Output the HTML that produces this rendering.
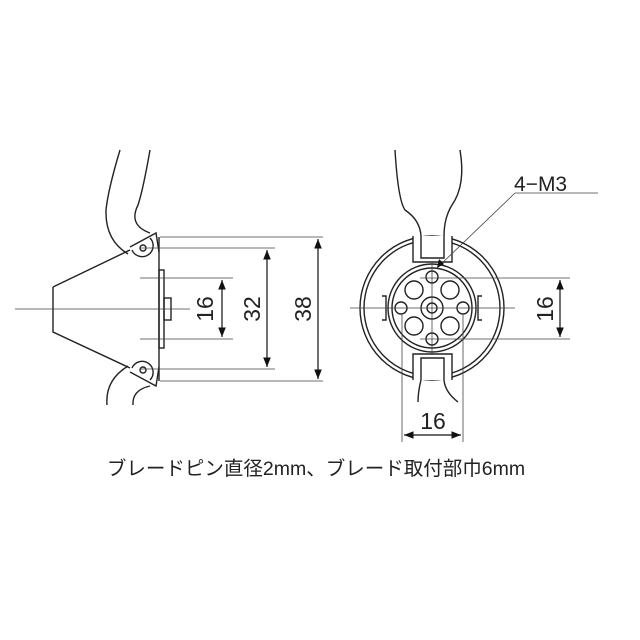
<!DOCTYPE html>
<html><head><meta charset="utf-8"><style>
html,body{margin:0;padding:0;background:#fff;width:640px;height:640px;overflow:hidden}
text{font-family:"Liberation Sans","Noto Sans CJK JP",sans-serif;fill:#222}
</style></head><body>
<svg width="640" height="640" viewBox="0 0 640 640" xmlns="http://www.w3.org/2000/svg">
<defs><marker id="a" viewBox="0 0 10 10" refX="10" refY="5" markerWidth="8" markerHeight="8" orient="auto-start-reverse"><path d="M0,1 L10,5 L0,9 z" fill="#111"/></marker></defs>
<g fill="none" stroke="#222" stroke-width="1.4">
<!-- left view -->
<path d="M53,287 L53,332 L130,368 M53,287 L130,250"/>
<path d="M159,237 L159,381"/>
<path d="M130,247 L156,233 L159,252"/>
<path d="M130,372 L156,386 L159,367"/>
<path d="M132,250 A11,11 0 1 0 150,238"/>
<path d="M132,368 A11,11 0 1 1 150,380"/>
<circle cx="143" cy="248" r="3"/><circle cx="143" cy="370" r="3"/>
<path d="M120,150 Q108,190 106,210 Q105,240 128,254"/>
<path d="M150,150 Q143,190 138,205 Q128,225 150,233"/>
<path d="M128,366 Q105,380 107,405"/>
<path d="M150,386 Q132,390 133,405"/>
<rect x="159" y="270" width="5" height="78"/>
<rect x="164" y="298" width="7" height="22"/>
<!-- right view -->
<circle cx="432" cy="308" r="72"/>
<circle cx="432" cy="308" r="68"/>
<circle cx="432" cy="308" r="44"/>
<circle cx="432" cy="308" r="40"/>
<circle cx="432" cy="308" r="11"/><circle cx="432" cy="308" r="5"/>
<circle cx="432" cy="277" r="6"/><circle cx="432" cy="339" r="6"/>
<circle cx="401" cy="308" r="6"/><circle cx="463" cy="308" r="6"/>
<circle cx="414" cy="290" r="9"/><circle cx="450" cy="290" r="9"/>
<circle cx="414" cy="326" r="9"/><circle cx="450" cy="326" r="9"/>
<path d="M413,236 L413,262 L452,262 L452,236" fill="#fff"/>
<path d="M421,236 L421,258 L444,258 L444,236"/>
<path d="M413,380 L413,354 L452,354 L452,380" fill="#fff"/>
<path d="M421,380 L421,358 L444,358 L444,380"/>
<path d="M395,150 Q398,200 405,210 Q420,220 421,236"/>
<path d="M460,150 Q466,185 452,205 Q444,218 444,236"/>
<path d="M421,380 Q418,392 418,402 M444,380 Q445,392 458,402"/>
<path d="M382,296 L386,296 L386,320 L382,320 M482,296 L478,296 L478,320 L482,320"/>
</g>
<g fill="none" stroke="#444" stroke-width="0.8">
<path d="M15,309 L190,309 M350,308 L515,308 M432,262 L432,355"/>
<path d="M160,237 L323,237 M160,381 L323,381"/>
<path d="M140,248 L275,248 M140,369 L275,369"/>
<path d="M140,278 L233,278 M140,339 L233,339"/>
<path d="M420,278 L570,278 M420,339 L570,339"/>
<path d="M402,315 L402,442 M463,315 L463,442"/>
<path d="M598,193 L515,193 L437,268"/>
</g>
<g stroke="#111" stroke-width="1.2">
<line x1="318" y1="239" x2="318" y2="379" marker-start="url(#a)" marker-end="url(#a)"/>
<line x1="267" y1="250" x2="267" y2="367" marker-start="url(#a)" marker-end="url(#a)"/>
<line x1="222" y1="280" x2="222" y2="337" marker-start="url(#a)" marker-end="url(#a)"/>
<line x1="560" y1="280" x2="560" y2="337" marker-start="url(#a)" marker-end="url(#a)"/>
<line x1="404" y1="435" x2="461" y2="435" marker-start="url(#a)" marker-end="url(#a)"/>
</g>
<path d="M437,268 l2,-9 l5,5 z" fill="#111"/>
<g font-size="23">
<text transform="translate(213,309) rotate(-90)" text-anchor="middle">16</text>
<text transform="translate(260,309) rotate(-90)" text-anchor="middle">32</text>
<text transform="translate(311,309) rotate(-90)" text-anchor="middle">38</text>
<text transform="translate(553,309) rotate(-90)" text-anchor="middle">16</text>
<text x="433" y="429" text-anchor="middle">16</text>
<text x="514" y="191" font-size="21">4−M3</text>
</g>
<text x="316" y="475" font-size="19.5" text-anchor="middle">ブレードピン直径2mm、ブレード取付部巾6mm</text>
</svg>
</body></html>
